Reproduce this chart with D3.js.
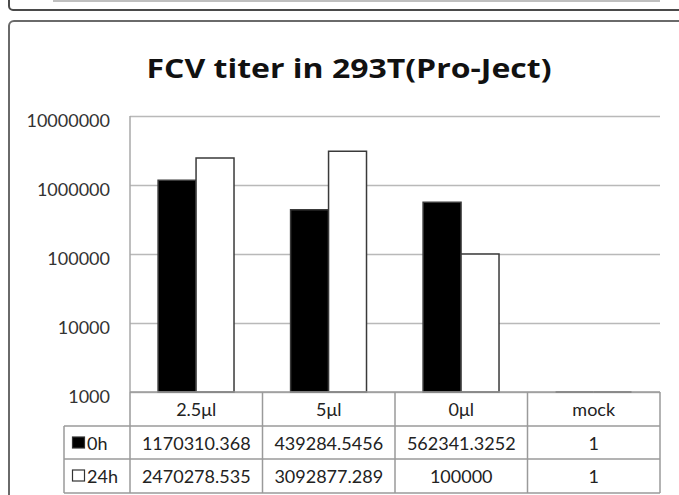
<!DOCTYPE html>
<html>
<head>
<meta charset="utf-8">
<script src="https://cdn.jsdelivr.net/npm/d3@7"></script>
<style>
  body { margin: 0; background: #fff; }
  svg { display: block; font-family: Lato, "Open Sans", sans-serif; }
</style>
</head>
<body>
<div id="chart"></div>
<script>
// chart data
var categories = ["2.5μl", "5μl", "0μl", "mock"]
var seriesNames = ["0h", "24h"]
var values0h = [1170310.368, 439284.5456, 562341.3252, 1]
var values24h = [2470278.535, 3092877.289, 100000, 1]
var yTicks = [1000, 10000, 100000, 1000000, 10000000]
var seriesFill = ["#000000", "#ffffff"]

var W = 679, H = 495
var margin = {top: 116, left: 130, right: 19, bottom: 103}
var plotW = W - margin.left - margin.right,
    plotH = H - margin.top - margin.bottom

var svg = d3.select("#chart").append("svg")
    .attr("width", W)
    .attr("height", H)

// panel frames (bottom of the panel above, and this panel)
svg.append("rect")
    .attr("x", 9).attr("y", -30)
    .attr("width", W + 20).attr("height", 40)
    .attr("rx", 4)
    .attr("fill", "none").attr("stroke", "#4a4a4a").attr("stroke-width", 2)
svg.append("line")
    .attr("x1", 53).attr("x2", 660).attr("y1", 1).attr("y2", 1)
    .attr("stroke", "#aaa").attr("stroke-width", 1.5)
svg.append("rect")
    .attr("x", 9).attr("y", 21)
    .attr("width", W + 20).attr("height", H)
    .attr("rx", 5)
    .attr("fill", "#fff").attr("stroke", "#6a6a6a").attr("stroke-width", 2)

svg.append("text")
    .attr("x", 349)
    .attr("y", 78)
    .attr("text-anchor", "middle")
    .attr("font-family", "'Open Sans', Lato, sans-serif")
    .attr("font-size", 27)
    .attr("font-weight", "bold")
    .attr("textLength", 405)
    .attr("lengthAdjust", "spacingAndGlyphs")
    .attr("fill", "#111")
    .text("FCV titer in 293T(Pro-Ject)")

var g = svg.append("g")
    .attr("transform", "translate(" + margin.left + "," + margin.top + ")")

var x = d3.scaleBand().domain(categories).range([0, plotW])
var step = x.step()
var xInner = d3.scaleBand().domain(seriesNames).range([step * 0.212, step * 0.785])
var y = d3.scaleLog().domain([1000, 10000000]).range([plotH, 0]).clamp(true)

// gridlines + labels
var yAxis = g.append("g")
    .call(d3.axisLeft(y)
        .tickValues(yTicks)
        .tickFormat(d3.format("d"))
        .tickSizeInner(-plotW)
        .tickSizeOuter(0)
        .tickPadding(20))
yAxis.select(".domain").remove()
yAxis.selectAll(".tick line").attr("stroke", "#b9b9b9").attr("stroke-width", 1.5)
yAxis.selectAll(".tick text")
    .attr("font-size", 18)
    .attr("font-family", "Lato, sans-serif")
    .attr("fill", "#333")
    .attr("dy", "0.58em")

g.append("line")
    .attr("x1", 0).attr("x2", 0).attr("y1", 0).attr("y2", plotH)
    .attr("stroke", "#a9a9a9").attr("stroke-width", 1.5)

// bars
var rows = categories.map(function(c, i) {
    return {cat: c, vals: [values0h[i], values24h[i]]}
})
var groups = g.selectAll(".bar-group")
    .data(rows)
    .enter().append("g")
    .attr("transform", function(d) { return "translate(" + x(d.cat) + ",0)" })

groups.selectAll("path")
    .data(function(d) { return d.vals.map(function(v, j) { return {s: seriesNames[j], v: v, j: j} }) })
    .enter().append("path")
    .attr("d", function(d) {
        var x0 = xInner(d.s), x1 = x0 + xInner.bandwidth()
        return "M" + x0 + "," + plotH + "V" + y(d.v) + "H" + x1 + "V" + plotH + "Z"
    })
    .attr("fill", function(d) { return seriesFill[d.j] })
    .attr("stroke", "#3a3a3a")
    .attr("stroke-width", 1.5)

// data table under the plot
var rowTop = [plotH, plotH + 34, plotH + 67]
var rowBottom = plotH + 101
var tableLeft = -66
var tbl = g.append("g")
var lineColor = "#9a9a9a"

// horizontal lines
tbl.append("line").attr("x1", 0).attr("x2", plotW).attr("y1", rowTop[0]).attr("y2", rowTop[0])
    .attr("stroke", lineColor).attr("stroke-width", 1.5)
;[rowTop[1], rowTop[2], rowBottom].forEach(function(yy) {
    tbl.append("line").attr("x1", tableLeft).attr("x2", plotW).attr("y1", yy).attr("y2", yy)
        .attr("stroke", lineColor).attr("stroke-width", 1.5)
})
// vertical lines
tbl.append("line").attr("x1", tableLeft).attr("x2", tableLeft).attr("y1", rowTop[1]).attr("y2", rowBottom)
    .attr("stroke", lineColor).attr("stroke-width", 1.5)
categories.forEach(function(c) {
    tbl.append("line").attr("x1", x(c)).attr("x2", x(c)).attr("y1", rowTop[0]).attr("y2", rowBottom)
        .attr("stroke", lineColor).attr("stroke-width", 1.5)
})
tbl.append("line").attr("x1", plotW).attr("x2", plotW).attr("y1", rowTop[0]).attr("y2", rowBottom)
    .attr("stroke", lineColor).attr("stroke-width", 1.5)

// header
tbl.selectAll(".hdr").data(categories).enter().append("text")
    .attr("x", function(d) { return x(d) + step / 2 })
    .attr("y", rowTop[0] + 24)
    .attr("text-anchor", "middle")
    .attr("font-size", 18)
    .attr("fill", "#222")
    .text(function(d) { return d })

// value rows
var seriesVals = [values0h, values24h]
seriesVals.forEach(function(vals, j) {
    tbl.selectAll(".v" + j).data(vals).enter().append("text")
        .attr("x", function(d, i) { return x(categories[i]) + step / 2 })
        .attr("y", rowTop[j + 1] + 24)
        .attr("text-anchor", "middle")
        .attr("font-size", 18)
        .attr("fill", "#222")
        .text(function(d) { return String(d) })
    // legend key
    tbl.append("rect")
        .attr("x", tableLeft + 8.5).attr("y", rowTop[j + 1] + 11)
        .attr("width", 12).attr("height", 11)
        .attr("fill", seriesFill[j]).attr("stroke", "#333").attr("stroke-width", 1.2)
    tbl.append("text")
        .attr("x", tableLeft + 23)
        .attr("y", rowTop[j + 1] + 24)
        .attr("font-size", 18)
        .attr("fill", "#222")
        .text(seriesNames[j])
})
</script>
</body>
</html>
